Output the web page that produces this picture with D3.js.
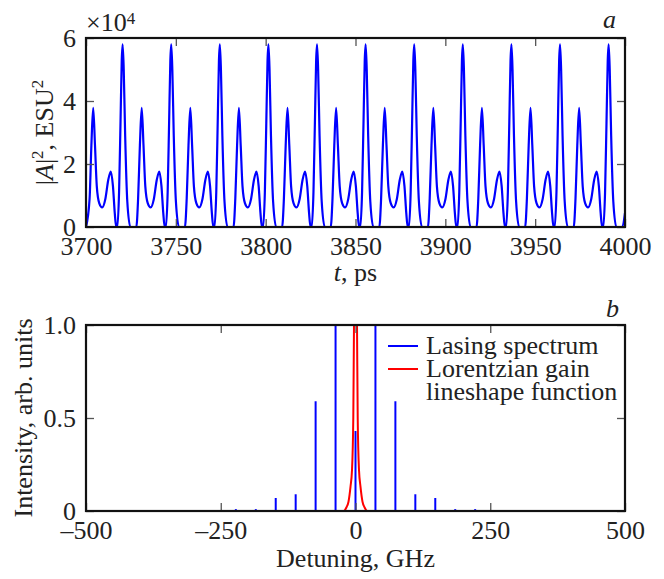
<!DOCTYPE html>
<html lang="en">
<head>
<meta charset="utf-8">
<title>Pulse train and lasing spectrum</title>
<script src="https://cdn.jsdelivr.net/npm/d3@7"></script>
<style>
  body { margin: 0; background: #fff; }
  svg text { font-family: "Liberation Serif", "Times New Roman", serif; fill: #222; }
</style>
</head>
<body>
<script>
// panel a: |A|^2 in units of 1e4 ESU^2, time in ps (one pulse period per line)
var ampTime = [
  3700.0, 3702.0, 3703.0, 3704.0, 3705.0, 3706.0, 3707.4, 3709.0, 3710.8, 3712.4, 3713.8, 3715.0, 3716.0, 3716.8,
  3717.4, 3718.4, 3719.2, 3719.9, 3720.4, 3721.0, 3721.8, 3723.0, 3724.7, 3728.0, 3729.0, 3730.0, 3731.0, 3732.0, 3733.0, 3734.4, 3736.0, 3737.8, 3739.4, 3740.8, 3742.0, 3743.0, 3743.8,
  3744.45, 3745.45, 3746.25, 3746.95, 3747.45, 3748.05, 3748.85, 3750.05, 3751.75, 3755.05, 3756.05, 3757.05, 3758.05, 3759.05, 3760.05, 3761.45, 3763.05, 3764.85, 3766.45, 3767.85, 3769.05, 3770.05, 3770.85,
  3771.5, 3772.5, 3773.3, 3774.0, 3774.5, 3775.1, 3775.9, 3777.1, 3778.8, 3782.1, 3783.1, 3784.1, 3785.1, 3786.1, 3787.1, 3788.5, 3790.1, 3791.9, 3793.5, 3794.9, 3796.1, 3797.1, 3797.9,
  3798.55, 3799.55, 3800.35, 3801.05, 3801.55, 3802.15, 3802.95, 3804.15, 3805.85, 3809.15, 3810.15, 3811.15, 3812.15, 3813.15, 3814.15, 3815.55, 3817.15, 3818.95, 3820.55, 3821.95, 3823.15, 3824.15, 3824.95,
  3825.6, 3826.6, 3827.4, 3828.1, 3828.6, 3829.2, 3830.0, 3831.2, 3832.9, 3836.2, 3837.2, 3838.2, 3839.2, 3840.2, 3841.2, 3842.6, 3844.2, 3846.0, 3847.6, 3849.0, 3850.2, 3851.2, 3852.0,
  3852.65, 3853.65, 3854.45, 3855.15, 3855.65, 3856.25, 3857.05, 3858.25, 3859.95, 3863.25, 3864.25, 3865.25, 3866.25, 3867.25, 3868.25, 3869.65, 3871.25, 3873.05, 3874.65, 3876.05, 3877.25, 3878.25, 3879.05,
  3879.7, 3880.7, 3881.5, 3882.2, 3882.7, 3883.3, 3884.1, 3885.3, 3887.0, 3890.3, 3891.3, 3892.3, 3893.3, 3894.3, 3895.3, 3896.7, 3898.3, 3900.1, 3901.7, 3903.1, 3904.3, 3905.3, 3906.1,
  3906.75, 3907.75, 3908.55, 3909.25, 3909.75, 3910.35, 3911.15, 3912.35, 3914.05, 3917.35, 3918.35, 3919.35, 3920.35, 3921.35, 3922.35, 3923.75, 3925.35, 3927.15, 3928.75, 3930.15, 3931.35, 3932.35, 3933.15,
  3933.8, 3934.8, 3935.6, 3936.3, 3936.8, 3937.4, 3938.2, 3939.4, 3941.1, 3944.4, 3945.4, 3946.4, 3947.4, 3948.4, 3949.4, 3950.8, 3952.4, 3954.2, 3955.8, 3957.2, 3958.4, 3959.4, 3960.2,
  3960.85, 3961.85, 3962.65, 3963.35, 3963.85, 3964.45, 3965.25, 3966.45, 3968.15, 3971.45, 3972.45, 3973.45, 3974.45, 3975.45, 3976.45, 3977.85, 3979.45, 3981.25, 3982.85, 3984.25, 3985.45, 3986.45, 3987.25,
  3987.9, 3988.9, 3989.7, 3990.4, 3990.9, 3991.5, 3992.3, 3993.5, 3995.2, 3998.5, 4000.0
];
var ampValue = [
  0, 0.9, 2.6, 3.78, 2.6, 1.3, 0.75, 0.62, 0.9, 1.5, 1.76, 1.3, 0.45, 0,
  0, 1.1, 3.3, 5.3, 5.8, 5.0, 2.9, 0.8, 0, 0, 0.9, 2.6, 3.78, 2.6, 1.3, 0.75, 0.62, 0.9, 1.5, 1.76, 1.3, 0.45, 0,
  0, 1.1, 3.3, 5.3, 5.8, 5.0, 2.9, 0.8, 0, 0, 0.9, 2.6, 3.78, 2.6, 1.3, 0.75, 0.62, 0.9, 1.5, 1.76, 1.3, 0.45, 0,
  0, 1.1, 3.3, 5.3, 5.8, 5.0, 2.9, 0.8, 0, 0, 0.9, 2.6, 3.78, 2.6, 1.3, 0.75, 0.62, 0.9, 1.5, 1.76, 1.3, 0.45, 0,
  0, 1.1, 3.3, 5.3, 5.8, 5.0, 2.9, 0.8, 0, 0, 0.9, 2.6, 3.78, 2.6, 1.3, 0.75, 0.62, 0.9, 1.5, 1.76, 1.3, 0.45, 0,
  0, 1.1, 3.3, 5.3, 5.8, 5.0, 2.9, 0.8, 0, 0, 0.9, 2.6, 3.78, 2.6, 1.3, 0.75, 0.62, 0.9, 1.5, 1.76, 1.3, 0.45, 0,
  0, 1.1, 3.3, 5.3, 5.8, 5.0, 2.9, 0.8, 0, 0, 0.9, 2.6, 3.78, 2.6, 1.3, 0.75, 0.62, 0.9, 1.5, 1.76, 1.3, 0.45, 0,
  0, 1.1, 3.3, 5.3, 5.8, 5.0, 2.9, 0.8, 0, 0, 0.9, 2.6, 3.78, 2.6, 1.3, 0.75, 0.62, 0.9, 1.5, 1.76, 1.3, 0.45, 0,
  0, 1.1, 3.3, 5.3, 5.8, 5.0, 2.9, 0.8, 0, 0, 0.9, 2.6, 3.78, 2.6, 1.3, 0.75, 0.62, 0.9, 1.5, 1.76, 1.3, 0.45, 0,
  0, 1.1, 3.3, 5.3, 5.8, 5.0, 2.9, 0.8, 0, 0, 0.9, 2.6, 3.78, 2.6, 1.3, 0.75, 0.62, 0.9, 1.5, 1.76, 1.3, 0.45, 0,
  0, 1.1, 3.3, 5.3, 5.8, 5.0, 2.9, 0.8, 0, 0, 0.9, 2.6, 3.78, 2.6, 1.3, 0.75, 0.62, 0.9, 1.5, 1.76, 1.3, 0.45, 0,
  0, 1.1, 3.3, 5.3, 5.8, 5.0, 2.9, 0.8, 0, 0, 0.45
];
var tTicks = [3700, 3750, 3800, 3850, 3900, 3950, 4000];
var ampTicks = [0, 2, 4, 6];

// panel b: lasing spectrum lines (GHz) and gain lineshape
var lineFreq = [-222, -185, -148, -111, -74, -37, 0, 37, 74, 111, 148, 185, 222, 259, 296];
var lineHeight = [0.01, 0.01, 0.07, 0.09, 0.59, 1.2, 0.43, 1.2, 0.59, 0.09, 0.07, 0.01, 0.01, 0.005, 0.005];
var gainFreq = [-500, -22, -16.7, -13, -9.3, -6.5, -4.1, -2.8, 0, 2.8, 4.1, 6.5, 9.3, 13, 16.7, 22, 500];
var gainValue = [0, 0, 0.02, 0.05, 0.13, 0.22, 0.5, 1.0, 1.6, 1.0, 0.5, 0.22, 0.13, 0.05, 0.02, 0, 0];
var fTicks = [-500, -250, 0, 250, 500];
var intTicks = [0, 0.5, 1];
var legendLabels = [["Lasing spectrum"], ["Lorentzian gain", "lineshape function"]];

var W = 664, H = 579;
var FS = 26;
var blue = "#0000ff", red = "#ff0000";

var svg = d3.select("body").append("svg")
  .attr("width", W).attr("height", H);

var left = 86, right = 625;

function styleAxis(g) {
  g.select(".domain").remove();
  g.selectAll(".tick line").attr("stroke", "#555").attr("stroke-width", 1.3);
  g.selectAll(".tick text").attr("font-size", FS).attr("fill", "#222")
    .attr("font-family", "Liberation Serif, serif");
}

function frame(top, bottom, xs, ys, xt, yt, xfmt, yfmt) {
  svg.append("g").attr("transform", "translate(0," + bottom + ")")
    .call(d3.axisBottom(xs).tickValues(xt).tickSize(-8).tickPadding(10).tickFormat(xfmt))
    .call(styleAxis);
  svg.append("g").attr("transform", "translate(0," + top + ")")
    .call(d3.axisTop(xs).tickValues(xt).tickSize(-8).tickFormat(""))
    .call(styleAxis);
  svg.append("g").attr("transform", "translate(" + left + ",0)")
    .call(d3.axisLeft(ys).tickValues(yt).tickSize(-8).tickPadding(10).tickFormat(yfmt))
    .call(styleAxis);
  svg.append("g").attr("transform", "translate(" + right + ",0)")
    .call(d3.axisRight(ys).tickValues(yt).tickSize(-8).tickFormat(""))
    .call(styleAxis);
}

// ---------- panel a ----------
var topA = 38, botA = 227;
var xA = d3.scaleLinear().domain([3700, 4000]).range([left, right]);
var yA = d3.scaleLinear().domain([0, 6]).range([botA, topA]);

svg.append("clipPath").attr("id", "clipA").append("rect")
  .attr("x", left).attr("y", topA).attr("width", right - left).attr("height", botA - topA);

var ampPts = ampTime.map(function (t, i) { return [t, ampValue[i]]; });
svg.append("path")
  .datum(ampPts)
  .attr("clip-path", "url(#clipA)")
  .attr("fill", "none").attr("stroke", blue).attr("stroke-width", 2.2)
  .attr("stroke-linejoin", "round")
  .attr("d", d3.line().x(function (d) { return xA(d[0]); }).y(function (d) { return yA(d[1]); })
    .curve(d3.curveMonotoneX));

frame(topA, botA, xA, yA, tTicks, ampTicks, d3.format("d"), d3.format("d"));

svg.append("rect").attr("x", left).attr("y", topA).attr("width", right - left).attr("height", botA - topA)
  .attr("fill", "none").attr("stroke", "#111").attr("stroke-width", 2.2);

// x10^4 multiplier
var mult = svg.append("text").attr("x", left).attr("y", 31).attr("font-size", FS);
mult.append("tspan").text("\u00d710");
mult.append("tspan").attr("font-size", 17).attr("dy", -7).text("4");

svg.append("text").attr("x", 603).attr("y", 28).attr("font-size", FS)
  .attr("font-style", "italic").text("a");

var yla = svg.append("text").attr("transform", "translate(53," + ((topA + botA) / 2) + ") rotate(-90)")
  .attr("text-anchor", "middle").attr("font-size", FS);
yla.append("tspan").text("|");
yla.append("tspan").attr("font-style", "italic").text("A");
yla.append("tspan").text("|");
yla.append("tspan").attr("font-size", 17).attr("dy", -10).text("2");
yla.append("tspan").attr("dy", 10).text(", ESU");
yla.append("tspan").attr("font-size", 17).attr("dy", -10).text("2");

var xla = svg.append("text").attr("x", (left + right) / 2).attr("y", 281)
  .attr("text-anchor", "middle").attr("font-size", FS);
xla.append("tspan").attr("font-style", "italic").text("t");
xla.append("tspan").text(", ps");

// ---------- panel b ----------
var topB = 325, botB = 511;
var xB = d3.scaleLinear().domain([-500, 500]).range([left, right]);
var yB = d3.scaleLinear().domain([0, 1]).range([botB, topB]);

svg.append("clipPath").attr("id", "clipB").append("rect")
  .attr("x", left).attr("y", topB).attr("width", right - left).attr("height", botB - topB);

var specG = svg.append("g").attr("clip-path", "url(#clipB)");

// spectrum baseline
specG.append("line")
  .attr("x1", xB(-500)).attr("x2", xB(500))
  .attr("y1", yB(0)).attr("y2", yB(0))
  .attr("stroke", blue).attr("stroke-width", 2);

specG.selectAll("line.spike")
  .data(lineFreq)
  .enter().append("line")
  .attr("class", "spike")
  .attr("x1", function (d) { return xB(d); })
  .attr("x2", function (d) { return xB(d); })
  .attr("y1", yB(0))
  .attr("y2", function (d, i) { return yB(lineHeight[i]); })
  .attr("stroke", blue).attr("stroke-width", 2);

var gainPts = gainFreq.map(function (f, i) { return [f, gainValue[i]]; });
specG.append("path")
  .datum(gainPts)
  .attr("fill", "none").attr("stroke", red).attr("stroke-width", 2)
  .attr("d", d3.line().x(function (d) { return xB(d[0]); }).y(function (d) { return yB(d[1]); })
    .curve(d3.curveMonotoneX));

frame(topB, botB, xB, yB, fTicks, intTicks,
  function (d) { return d < 0 ? "\u2013" + Math.abs(d) : String(d); },
  function (d) { return d === 0 ? "0" : d3.format(".1f")(d); });

svg.append("rect").attr("x", left).attr("y", topB).attr("width", right - left).attr("height", botB - topB)
  .attr("fill", "none").attr("stroke", "#111").attr("stroke-width", 2.2);

svg.append("text").attr("x", 606).attr("y", 317).attr("font-size", FS)
  .attr("font-style", "italic").text("b");

svg.append("text").attr("transform", "translate(32," + ((topB + botB) / 2) + ") rotate(-90)")
  .attr("text-anchor", "middle").attr("font-size", FS).text("Intensity, arb. units");

svg.append("text").attr("x", (left + right) / 2).attr("y", 567)
  .attr("text-anchor", "middle").attr("font-size", FS).text("Detuning, GHz");

// legend
var legY = [346, 369];
var legColors = [blue, red];
legendLabels.forEach(function (lines, i) {
  svg.append("line").attr("x1", 388).attr("x2", 418)
    .attr("y1", legY[i]).attr("y2", legY[i])
    .attr("stroke", legColors[i]).attr("stroke-width", 2);
  lines.forEach(function (s, j) {
    svg.append("text").attr("x", 426).attr("y", legY[i] + 7.5 + j * 23.5)
      .attr("font-size", FS).text(s);
  });
});
</script>
</body>
</html>
